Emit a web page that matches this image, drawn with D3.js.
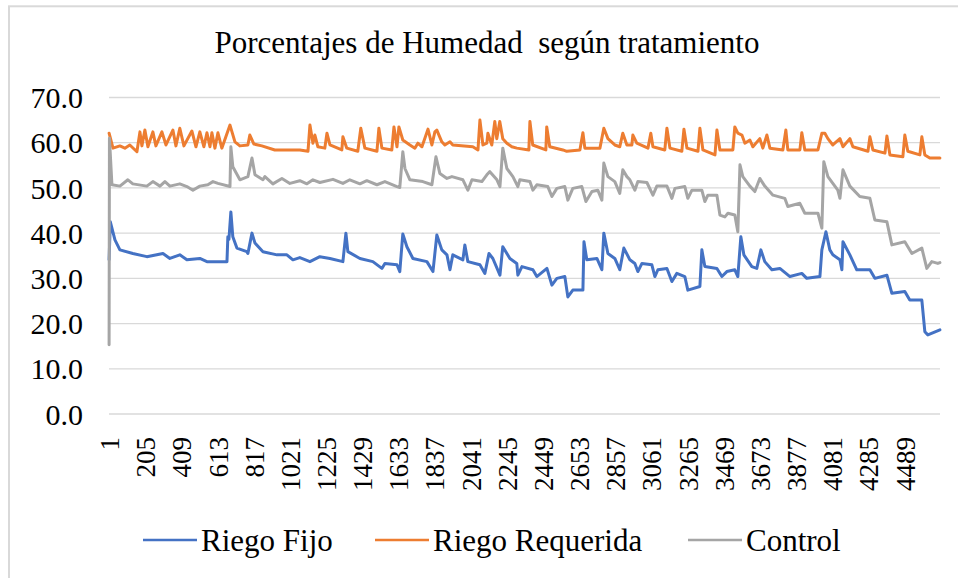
<!DOCTYPE html>
<html>
<head>
<meta charset="utf-8">
<script src="https://cdn.jsdelivr.net/npm/d3@7"></script>
<style>
  html, body { margin: 0; padding: 0; background: #fff; }
  svg { display: block; }
</style>
</head>
<body>
<svg id="chart" width="958" height="578"></svg>
<script>
// ---- Data (index, % humidity) ----
const categoryCount = 4688;
const xTickLabels = [1,205,409,613,817,1021,1225,1429,1633,1837,2041,2245,2449,2653,2857,3061,3265,3469,3673,3877,4081,4285,4489];
const yTicks = [0,10,20,30,40,50,60,70];
const seriesNames = ["Riego Fijo", "Riego Requerida", "Control"];
const seriesColors = ["#4472C4", "#ED7D31", "#A5A5A5"];

const riegoFijo = [
  [1,34.1],[8,42.5],[34,38.5],[62,36.3],[135,35.5],[214,34.8],[305,35.5],[344,34.4],[400,35.2],[440,34.1],
  [513,34.4],[553,33.7],[666,33.7],[671,39.2],[677,38.6],[688,44.7],[699,39.2],[722,36.7],[778,35.9],[784,35.5],
  [807,40.0],[824,37.8],[869,35.9],[948,35.2],[1004,35.2],[1038,34.1],[1077,34.6],[1134,33.7],[1190,34.8],[1247,34.4],
  [1320,33.7],[1337,40.0],[1348,35.9],[1416,34.4],[1489,33.7],[1540,32.2],[1557,33.3],[1625,33.0],[1641,31.5],[1658,39.8],
  [1681,37.0],[1715,34.4],[1794,33.7],[1828,31.5],[1850,39.6],[1878,36.3],[1907,35.2],[1924,31.9],[1940,35.2],[1997,34.1],
  [2008,37.4],[2025,33.7],[2093,33.0],[2121,31.1],[2144,35.5],[2166,34.4],[2206,30.7],[2222,37.0],[2262,34.4],[2301,33.3],
  [2307,30.7],[2330,32.6],[2392,31.9],[2414,30.4],[2471,32.2],[2499,28.5],[2527,30.0],[2572,30.4],[2589,25.9],[2617,27.4],
  [2674,27.4],[2680,38.1],[2696,34.1],[2753,34.4],[2781,31.9],[2792,40.0],[2815,35.5],[2854,34.4],[2882,31.9],[2905,36.7],
  [2939,34.1],[2967,33.3],[2984,31.5],[3007,33.3],[3063,33.0],[3080,30.4],[3097,31.9],[3148,32.2],[3176,29.3],[3204,31.1],
  [3249,30.4],[3266,27.4],[3334,28.2],[3345,36.3],[3362,32.6],[3430,32.2],[3458,30.4],[3486,31.5],[3531,31.9],[3548,30.4],
  [3565,39.2],[3582,35.2],[3627,32.6],[3655,32.2],[3678,36.3],[3700,33.7],[3740,31.9],[3785,32.2],[3842,30.4],[3909,31.1],
  [3937,30.0],[4011,30.4],[4022,36.3],[4045,40.3],[4067,36.3],[4084,35.2],[4124,34.1],[4135,31.9],[4141,38.1],[4180,35.2],
  [4219,31.9],[4293,31.9],[4321,30.0],[4389,30.7],[4417,26.7],[4490,27.1],[4518,25.2],[4586,25.2],[4603,18.2],[4620,17.5],
  [4688,18.6]
];

const riegoRequerida = [
  [1,62.1],[23,58.8],[62,59.3],[90,58.8],[118,59.5],[158,58.0],[175,62.4],[186,59.3],[203,62.8],[220,59.1],
  [248,62.4],[265,59.3],[299,62.4],[322,59.5],[361,62.8],[378,59.3],[400,63.2],[423,59.3],[468,62.6],[491,59.1],
  [513,62.4],[536,59.1],[553,62.2],[570,59.1],[581,62.2],[598,58.8],[615,62.2],[637,58.8],[683,63.9],[711,60.2],
  [739,59.3],[784,59.5],[795,61.7],[818,59.7],[863,59.3],[936,58.4],[1021,58.4],[1077,58.4],[1123,58.1],[1134,63.9],
  [1151,59.9],[1162,61.7],[1179,59.1],[1218,58.8],[1230,62.1],[1247,59.5],[1314,58.4],[1320,61.3],[1342,58.8],[1404,58.1],
  [1421,63.2],[1444,58.8],[1512,58.1],[1523,63.2],[1540,58.8],[1596,58.4],[1608,63.5],[1625,59.1],[1636,63.5],[1658,60.6],
  [1698,59.5],[1726,58.8],[1743,59.9],[1766,59.1],[1800,63.0],[1822,59.5],[1839,62.4],[1850,62.8],[1878,60.2],[1895,59.5],
  [1924,60.2],[1940,59.5],[2053,59.1],[2082,58.4],[2093,65.0],[2110,59.5],[2132,59.9],[2138,62.1],[2160,59.5],[2177,64.7],
  [2188,60.9],[2205,64.7],[2222,60.9],[2245,59.9],[2273,59.1],[2301,58.8],[2369,58.4],[2375,64.7],[2391,59.5],[2465,58.4],
  [2470,63.5],[2487,59.1],[2561,58.4],[2583,58.1],[2657,58.4],[2674,62.2],[2685,58.8],[2770,58.8],[2792,63.2],[2815,60.9],
  [2854,59.5],[2882,59.1],[2899,62.1],[2922,59.5],[2950,59.5],[2956,61.7],[2978,59.9],[3041,58.8],[3057,62.1],[3069,59.1],
  [3136,58.4],[3148,63.2],[3165,58.8],[3232,58.1],[3244,63.0],[3261,58.8],[3323,58.1],[3334,63.2],[3351,58.4],[3419,57.3],
  [3430,62.8],[3447,58.4],[3520,58.4],[3531,63.5],[3548,62.1],[3571,61.7],[3588,59.9],[3616,60.6],[3633,59.1],[3672,60.9],
  [3689,58.8],[3712,61.7],[3729,58.8],[3802,58.4],[3819,62.8],[3830,58.4],[3898,58.4],[3909,62.2],[3926,58.4],[4000,58.4],
  [4022,62.1],[4039,62.1],[4056,60.9],[4084,59.5],[4124,60.9],[4141,59.1],[4180,60.9],[4197,59.1],[4282,58.1],[4293,61.3],
  [4310,58.4],[4378,57.7],[4389,61.5],[4406,57.3],[4479,56.9],[4490,61.7],[4507,58.1],[4575,57.3],[4586,61.3],[4603,57.3],
  [4631,56.6],[4688,56.6]
];

const control = [
  [1,15.3],[3,61.0],[17,50.7],[62,50.4],[107,51.8],[135,50.9],[214,50.4],[248,51.4],[288,50.4],[316,51.4],
  [344,50.4],[400,50.9],[440,50.3],[474,49.5],[513,50.4],[558,50.7],[587,51.4],[615,51.0],[683,50.3],[688,59.1],
  [699,54.7],[739,51.8],[784,52.5],[807,56.6],[824,52.9],[869,51.8],[880,52.5],[925,50.9],[976,52.1],[1021,51.0],
  [1077,51.6],[1117,50.9],[1151,51.8],[1190,51.2],[1264,51.9],[1320,51.0],[1359,51.8],[1416,50.9],[1455,51.6],[1512,50.7],
  [1557,51.4],[1625,50.3],[1641,50.1],[1658,58.0],[1670,54.3],[1698,51.8],[1771,51.4],[1822,50.7],[1845,56.9],[1867,53.2],
  [1907,52.1],[1935,52.5],[1997,51.8],[2025,49.5],[2048,51.8],[2104,51.4],[2132,52.9],[2149,53.6],[2189,51.8],[2206,50.3],
  [2222,58.8],[2245,54.3],[2279,52.5],[2307,50.3],[2318,51.8],[2375,51.4],[2392,49.5],[2414,50.7],[2476,50.3],[2499,48.1],
  [2527,49.9],[2572,50.3],[2589,47.3],[2617,49.9],[2668,50.3],[2691,47.0],[2725,49.2],[2758,49.5],[2781,47.3],[2792,55.5],
  [2815,52.5],[2854,51.4],[2882,48.8],[2899,54.0],[2922,52.5],[2939,51.8],[2967,49.5],[2984,51.4],[3035,51.2],[3069,48.4],
  [3091,50.4],[3148,50.4],[3176,47.7],[3193,49.9],[3249,50.3],[3266,47.7],[3289,49.5],[3345,49.5],[3362,47.0],[3379,48.4],
  [3430,48.4],[3447,44.0],[3475,43.6],[3492,44.4],[3531,44.0],[3548,40.3],[3560,55.1],[3576,52.5],[3616,50.4],[3644,49.2],
  [3672,52.1],[3700,50.4],[3746,48.4],[3813,47.7],[3830,45.9],[3898,46.6],[3926,44.4],[4000,44.4],[4022,41.1],[4033,55.8],
  [4056,52.5],[4112,49.5],[4124,47.7],[4141,54.0],[4180,50.4],[4236,48.1],[4293,47.7],[4321,42.9],[4389,42.5],[4417,37.4],
  [4490,38.1],[4530,35.5],[4586,36.7],[4614,32.2],[4642,33.7],[4676,33.3],[4688,33.5]
];

const chartTitle = "Porcentajes de Humedad\u00a0 según tratamiento";

// ---- Layout ----
const FONT = "'Liberation Serif', 'Times New Roman', Times, serif";
const svg = d3.select("#chart");
const plot = { left: 109, right: 940, top: 97.5, bottom: 414 };

// chart area border (only left/top visible in frame)
svg.append("rect")
  .attr("x", 9).attr("y", 6.3)
  .attr("width", 1000).attr("height", 1000)
  .attr("fill", "none").attr("stroke", "#d9d9d9").attr("stroke-width", 2);

const x = d3.scaleLinear().domain([0.5, categoryCount + 0.5]).range([plot.left, plot.right]);
const y = d3.scaleLinear().domain([0, 70]).range([plot.bottom, plot.top]);

// gridlines
svg.append("g")
  .selectAll("line").data(yTicks).join("line")
  .attr("x1", plot.left).attr("x2", plot.right)
  .attr("y1", d => y(d)).attr("y2", d => y(d))
  .attr("stroke", "#d9d9d9").attr("stroke-width", 1.3);

// y axis labels
const yAxis = d3.axisLeft(y).tickValues(yTicks).tickFormat(d3.format(".1f")).tickSize(0).tickPadding(0);
const gy = svg.append("g").attr("transform", `translate(${83},0)`).call(yAxis)
  .attr("font-family", FONT);
gy.select(".domain").remove();
gy.selectAll("text")
  .attr("font-family", FONT)
  .attr("font-size", 30).attr("fill", "#000").attr("dy", "0.34em");

// x axis labels (rotated)
const xAxis = d3.axisBottom(x).tickValues(xTickLabels).tickFormat(d => String(d)).tickSize(0).tickPadding(0);
const gx = svg.append("g").attr("transform", `translate(0,${plot.bottom})`).call(xAxis)
  .attr("font-family", FONT);
gx.select(".domain").remove();
gx.selectAll("text")
  .attr("font-family", FONT)
  .attr("font-size", 27).attr("fill", "#000")
  .attr("text-anchor", "end")
  .attr("transform", "translate(0,23) rotate(-90)")
  .attr("x", 0).attr("y", 0).attr("dy", "0.35em");

// series lines
const line = d3.line().x(d => x(d[0])).y(d => y(d[1])).curve(d3.curveLinear);
const allSeries = [riegoFijo, riegoRequerida, control];
svg.append("g")
  .selectAll("path").data(allSeries).join("path")
  .attr("d", line)
  .attr("fill", "none")
  .attr("stroke", (d, i) => seriesColors[i])
  .attr("stroke-width", 3)
  .attr("stroke-linejoin", "round")
  .attr("stroke-linecap", "round");

// title
svg.append("text")
  .attr("x", 487).attr("y", 53)
  .attr("text-anchor", "middle")
  .attr("font-family", FONT)
  .attr("font-size", 31).attr("fill", "#000")
  .text(chartTitle);

// legend
const legendX = [143, 375, 688];
const lg = svg.append("g").selectAll("g").data(seriesNames).join("g")
  .attr("transform", (d, i) => `translate(${legendX[i]},540)`);
lg.append("line").attr("x1", 0).attr("x2", 54).attr("y1", 0).attr("y2", 0)
  .attr("stroke", (d, i) => seriesColors[i]).attr("stroke-width", 2.5);
lg.append("text").attr("x", 58).attr("y", 0).attr("dy", "0.34em")
  .attr("font-family", FONT)
  .attr("font-size", 31).attr("fill", "#000").text(d => d);
</script>
</body>
</html>
